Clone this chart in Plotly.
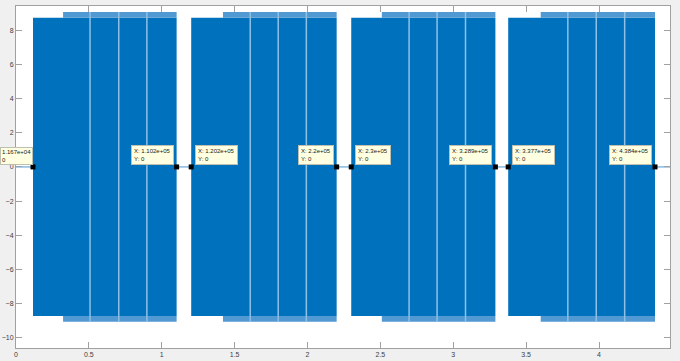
import plotly.graph_objects as go

# ---- data (samples on x, amplitude on y) ----
burst_start_x = [11670, 120200, 230000, 337700]
burst_end_x = [110200, 220000, 328900, 438400]
noise_start_x = [32300, 142000, 251000, 360000]
symbol_gap_x = [50800, 70500, 89800, 160700, 179900, 199200,
                269700, 288900, 308400, 378600, 398100, 417600]
envelope_amp = 8.73
peak_amp = 9.07
signal_end_x = 448700
tip_x = [11670, 110200, 120200, 220000, 230000, 328900, 337700, 438400]
tip_y = [0, 0, 0, 0, 0, 0, 0, 0]
x_tick_vals = [0, 50000, 100000, 150000, 200000, 250000, 300000, 350000, 400000]
x_tick_labels = ["0", "0.5", "1", "1.5", "2", "2.5", "3", "3.5", "4"]
y_tick_vals = [-10, -8, -6, -4, -2, 0, 2, 4, 6, 8]

BLUE = "#0072BD"

fig = go.Figure()

# zero line between bursts
zx, zy = [0], [0]
for s, e in zip(burst_start_x, burst_end_x):
    zx += [s, None, e]
    zy += [0, None, 0]
zx.append(signal_end_x)
zy.append(0)
fig.add_trace(go.Scatter(x=zx, y=zy, mode="lines",
                         line=dict(color="#86b9e1", width=1.5), hoverinfo="skip"))

# burst envelopes
bx, by = [], []
for s, e in zip(burst_start_x, burst_end_x):
    bx += [s, e, e, s, s, None]
    by += [-envelope_amp, -envelope_amp, envelope_amp, envelope_amp, -envelope_amp, None]
fig.add_trace(go.Scatter(x=bx, y=by, mode="lines", fill="toself", fillcolor=BLUE,
                         line=dict(width=0, color=BLUE), hoverinfo="skip"))

# peak (spiky) bands
px_, py_ = [], []
for n, e in zip(noise_start_x, burst_end_x):
    px_ += [n, e, e, n, n, None]
    py_ += [envelope_amp, envelope_amp, peak_amp, peak_amp, envelope_amp, None]
    px_ += [n, e, e, n, n, None]
    py_ += [-peak_amp, -peak_amp, -envelope_amp, -envelope_amp, -peak_amp, None]
fig.add_trace(go.Scatter(x=px_, y=py_, mode="lines", fill="toself", fillcolor="#5199d2",
                         line=dict(width=0, color="#5199d2"), hoverinfo="skip"))

# symbol boundary gaps (light lines)
gx, gy = [], []
for g in symbol_gap_x:
    gx += [g, g, None]
    gy += [-peak_amp, peak_amp, None]
fig.add_trace(go.Scatter(x=gx, y=gy, mode="lines",
                         line=dict(color="#8fc0e6", width=1.5), hoverinfo="skip"))

# data-tip markers
fig.add_trace(go.Scatter(x=tip_x, y=tip_y, mode="markers",
                         marker=dict(symbol="square", size=5, color="black"),
                         hoverinfo="skip"))

# data-tip boxes
for i, (x, y) in enumerate(zip(tip_x, tip_y)):
    common = dict(
        y=y, yref="y", showarrow=False, align="left", yanchor="bottom", yshift=2,
        font=dict(family="Arial", size=6, color="#202020"),
        bgcolor="#ffffe1", bordercolor="#c0c0b0", borderwidth=1,
    )
    if i == 0:
        # first tip sits against the window edge: only the values show
        fig.add_annotation(x=0, xref="paper", xanchor="left", xshift=-16,
                           text="{:.4g}<br>{:g}".format(x, y), borderpad=1, **common)
        continue
    right = x in burst_end_x
    fig.add_annotation(
        x=x, xref="x",
        text="X: {:.4g}<br>Y: {:g}".format(x, y),
        xanchor="right" if right else "left",
        xshift=-3 if right else 3.5, borderpad=2, **common,
    )

fig.update_layout(
    width=680, height=361,
    paper_bgcolor="#f0f0f0", plot_bgcolor="white",
    margin=dict(l=16, r=10, t=6, b=13, autoexpand=False),
    showlegend=False,
    font=dict(family="Arial", size=7, color="#404040"),
)
fig.update_xaxes(range=[0, 448700], tickvals=x_tick_vals, ticktext=x_tick_labels,
                 automargin=False,
                 showgrid=False, zeroline=False, showline=True, linecolor="#a0a0a0",
                 linewidth=1, mirror="ticks", ticks="inside", ticklen=6,
                 tickcolor="#a0a0a0", tickfont=dict(size=7, color="#404040"))
fig.update_yaxes(range=[-10.6, 9.42], tickvals=y_tick_vals,
                 automargin=False,
                 showgrid=False, zeroline=False, showline=True, linecolor="#a0a0a0",
                 linewidth=1, mirror="ticks", ticks="inside", ticklen=6,
                 tickcolor="#a0a0a0", tickfont=dict(size=7, color="#404040"))

fig.write_html("out.html", config={"displayModeBar": False},
               post_script="document.body.style.margin='0';document.body.style.background='#f0f0f0';")
